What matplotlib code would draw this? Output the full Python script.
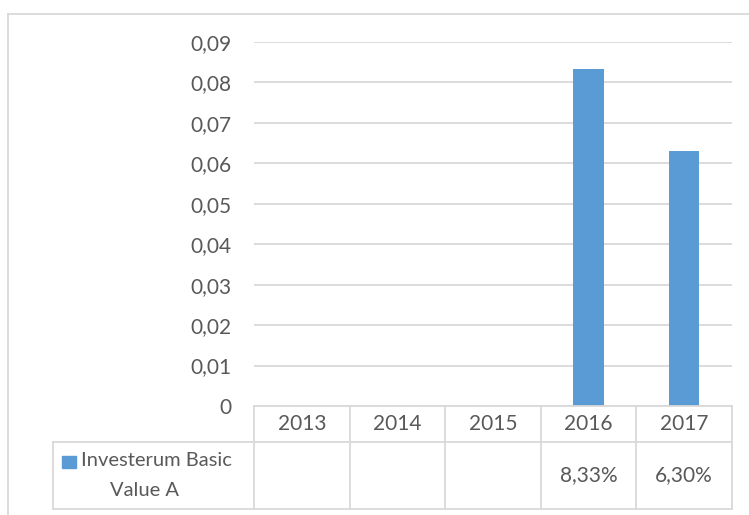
import matplotlib

matplotlib.use("Agg")
import matplotlib.pyplot as plt  # noqa: E402
from matplotlib.lines import Line2D  # noqa: E402
from matplotlib.patches import Rectangle  # noqa: E402

# data
years = ["2013", "2014", "2015", "2016", "2017"]
values = [None, None, None, 0.0833, 0.0630]
table_labels = ["", "", "", "8,33%", "6,30%"]
series_name = "Investerum Basic\nValue A"
y_ticks = [0.0, 0.01, 0.02, 0.03, 0.04, 0.05, 0.06, 0.07, 0.08, 0.09]

BAR = "#5B9BD5"
GRID = "#D9D9D9"
TEXT = "#595959"
W, H = 749, 515
FS = 15

plt.rcParams["font.family"] = ["Lato", "DejaVu Sans"]

fig = plt.figure(figsize=(W / 100, H / 100), dpi=100)


def fx(px):
    return px / W


def fy(py):
    return 1 - py / H


def hline(y, x0, x1, lw=1.3):
    fig.add_artist(Line2D([fx(x0), fx(x1)], [fy(y), fy(y)], color=GRID, lw=lw))


def vline(x, y0, y1, lw=1.3):
    fig.add_artist(Line2D([fx(x), fx(x)], [fy(y0), fy(y1)], color=GRID, lw=lw))


left, right, top, bottom = 254, 732, 42, 406
ax = fig.add_axes([fx(left), fy(bottom), fx(right - left), fy(top) - fy(bottom)])

xs = list(range(len(years)))
bx = [x for x, v in zip(xs, values) if v is not None]
bv = [v for v in values if v is not None]
ax.bar(bx, bv, width=0.32, color=BAR, zorder=3)

ax.set_xlim(-0.5, len(years) - 0.5)
ax.set_ylim(0, 0.09)
ax.set_yticks(y_ticks)
ax.set_yticklabels(["0" if t == 0 else f"{t:.2f}".replace(".", ",") for t in y_ticks])
ax.tick_params(axis="y", length=0, pad=16, labelsize=FS, labelcolor=TEXT)
ax.set_xticks([])
ax.grid(axis="y", color=GRID, lw=1.3, zorder=0)
for s in ax.spines.values():
    s.set_visible(False)

# outer chart border (partly cropped)
hline(13.5, 7.5, W)
vline(7.5, 13.5, H)

# data table
col_w = (right - left) / len(years)
row_top, row_mid, row_bot = 406, 442, 509
legend_left = 53
hline(row_top, left, right)
hline(row_mid, legend_left, right)
hline(row_bot, legend_left, right)
vline(legend_left, row_mid, row_bot)
for i in range(len(years) + 1):
    vline(left + i * col_w, row_top, row_bot)

for i, (yr, lab) in enumerate(zip(years, table_labels)):
    cx = left + (i + 0.5) * col_w
    fig.text(fx(cx), fy((row_top + row_mid) / 2), yr, ha="center", va="center",
             fontsize=FS, color=TEXT)
    if lab:
        fig.text(fx(cx), fy((row_mid + row_bot) / 2), lab, ha="center", va="center",
                 fontsize=FS, color=TEXT)

fig.add_artist(Rectangle((fx(62), fy(468)), fx(14), fy(456) - fy(468), color=BAR))
first, second = series_name.split("\n")
fig.text(fx(81), fy(461), first, ha="left", va="center", fontsize=14.5, color=TEXT)
fig.text(fx(144), fy(490), second, ha="center", va="center", fontsize=14.5, color=TEXT)

fig.savefig("out.png", dpi=100, facecolor="white")
